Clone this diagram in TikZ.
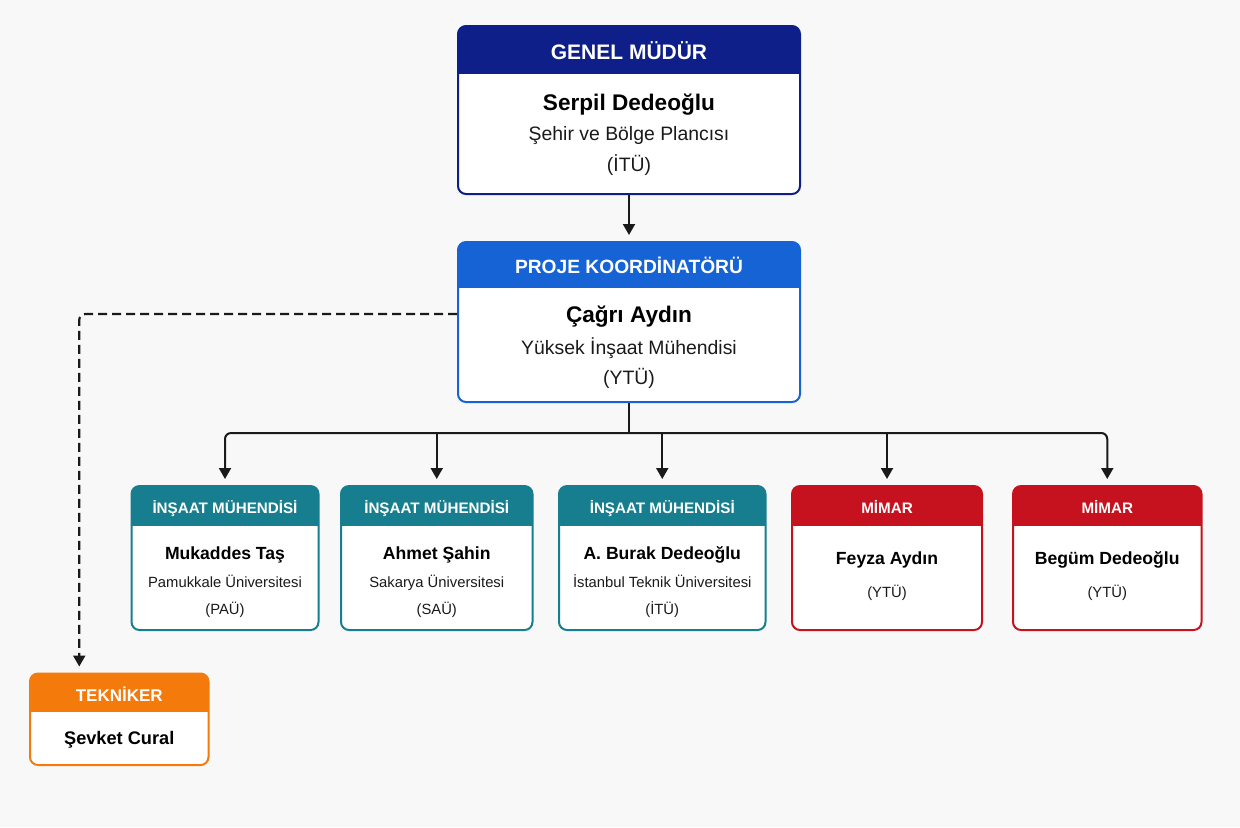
\documentclass[tikz,border=0pt]{standalone}
\usepackage{fontspec}
\setmainfont{Liberation Sans}
\usetikzlibrary{arrows.meta, positioning, calc}
\definecolor{orgnavy}{RGB}{14,31,138}
\definecolor{orgblue}{RGB}{22,99,214}
\definecolor{orgteal}{RGB}{22,126,142}
\definecolor{orgred}{RGB}{198,18,30}
\definecolor{orgorange}{RGB}{244,122,12}
\definecolor{orgbg}{RGB}{248,248,248}
\definecolor{orgink}{RGB}{26,26,26}
\tikzset{
  card/.style 2 args={
    rectangle, rounded corners=4pt,
    draw=#1, fill=white, line width=1pt,
    path picture={\fill[#1, sharp corners] (path picture bounding box.north west)
      rectangle ([yshift=-#2]path picture bounding box.north east);}
  },
  hdtext/.style={anchor=base, text=white, inner sep=0pt,
    font=\bfseries\fontsize{#1}{#1}\selectfont},
  nmtext/.style={anchor=base, text=black, inner sep=0pt,
    font=\bfseries\fontsize{#1}{#1}\selectfont},
  subtext/.style={anchor=base, text=orgink, inner sep=0pt,
    font=\fontsize{#1}{#1}\selectfont},
  arr/.style={-{Triangle[length=5.5pt,width=6pt]}, line width=1pt, color=orgink, shorten >=3pt},
  darr/.style={arr, line width=1.1pt, dash pattern=on 4.5pt off 2.5pt},
}
\begin{document}
\begin{tikzpicture}[x=0.5pt, y=-0.5pt]
  \fill[orgbg] (0,0) rectangle (1240,827);

  % genel mudur
  \node[card={orgnavy}{24pt}, minimum width=171pt, minimum height=84pt] (gm) at (629,110) {};
  \node[hdtext=10.5] (gmt) at (629,59) {GENEL MÜDÜR};
  \node[nmtext=11.3] (gmn) at (629,110.5) {Serpil Dedeoğlu};
  \node[subtext=9.7] (gms) at (629,140.5) {Şehir ve Bölge Plancısı};
  \node[subtext=9.7] (gmu) at (629,171) {(İTÜ)};

  % proje koordinatoru
  \node[card={orgblue}{23pt}, minimum width=171pt, minimum height=80pt] (pk) at (629,322) {};
  \node[hdtext=9.6] (pkt) at (629,273) {PROJE KOORDİNATÖRÜ};
  \node[nmtext=11.3] (pkn) at (629,322) {Çağrı Aydın};
  \node[subtext=9.7] (pks) at (629,354) {Yüksek İnşaat Mühendisi};
  \node[subtext=9.7] (pku) at (629,384) {(YTÜ)};

  % muhendisler
  \node[card={orgteal}{20pt}, minimum width=93.5pt, minimum height=72pt] (c1) at (225,558) {};
  \node[hdtext=7.6] (c1t) at (225,513) {İNŞAAT MÜHENDİSİ};
  \node[nmtext=8.8] (c1n) at (225,559) {Mukaddes Taş};
  \node[subtext=7.4] (c1s) at (225,587.5) {Pamukkale Üniversitesi};
  \node[subtext=7.4] (c1u) at (225,614) {(PAÜ)};

  \node[card={orgteal}{20pt}, minimum width=95.75pt, minimum height=72pt] (c2) at (436.75,558) {};
  \node[hdtext=7.6] (c2t) at (436.75,513) {İNŞAAT MÜHENDİSİ};
  \node[nmtext=8.8] (c2n) at (436.75,559) {Ahmet Şahin};
  \node[subtext=7.4] (c2s) at (436.75,587.5) {Sakarya Üniversitesi};
  \node[subtext=7.4] (c2u) at (436.75,614) {(SAÜ)};

  \node[card={orgteal}{20pt}, minimum width=103.25pt, minimum height=72pt] (c3) at (662.25,558) {};
  \node[hdtext=7.6] (c3t) at (662.25,513) {İNŞAAT MÜHENDİSİ};
  \node[nmtext=8.8] (c3n) at (662.25,559) {A. Burak Dedeoğlu};
  \node[subtext=7.4] (c3s) at (662.25,587.5) {İstanbul Teknik Üniversitesi};
  \node[subtext=7.4] (c3u) at (662.25,614) {(İTÜ)};

  % mimarlar
  \node[card={orgred}{20pt}, minimum width=95pt, minimum height=72pt] (c4) at (887,558) {};
  \node[hdtext=7.6] (c4t) at (887,513) {MİMAR};
  \node[nmtext=8.8] (c4n) at (887,564) {Feyza Aydın};
  \node[subtext=7.4] (c4u) at (887,597) {(YTÜ)};

  \node[card={orgred}{20pt}, minimum width=94.25pt, minimum height=72pt] (c5) at (1107.25,558) {};
  \node[hdtext=7.6] (c5t) at (1107.25,513) {MİMAR};
  \node[nmtext=8.8] (c5n) at (1107.25,564) {Begüm Dedeoğlu};
  \node[subtext=7.4] (c5u) at (1107.25,597) {(YTÜ)};

  % tekniker
  \node[card={orgorange}{19pt}, minimum width=89.25pt, minimum height=45.75pt] (tek) at (119.25,719.25) {};
  \node[hdtext=8.5] (tekt) at (119.25,701) {TEKNİKER};
  \node[nmtext=9.1] (tekn) at (119.25,744) {Şevket Cural};

  % connectors
  \coordinate (bus) at ([yshift=-15pt]pk.south);
  \draw[arr] (gm) -- (pk);
  \draw[line width=1pt, orgink] (pk) -- (bus);
  \draw[arr, rounded corners=3pt] (bus) -| (c1);
  \draw[arr] (c2 |- bus) -- (c2);
  \draw[arr] (c3 |- bus) -- (c3);
  \draw[arr] (c4 |- bus) -- (c4);
  \draw[arr, rounded corners=3pt] (bus) -| (c5);
  \draw[darr, rounded corners=3pt] ([yshift=4pt]pk.west) -| ([xshift=-20pt]tek.north);
\end{tikzpicture}
\end{document}
